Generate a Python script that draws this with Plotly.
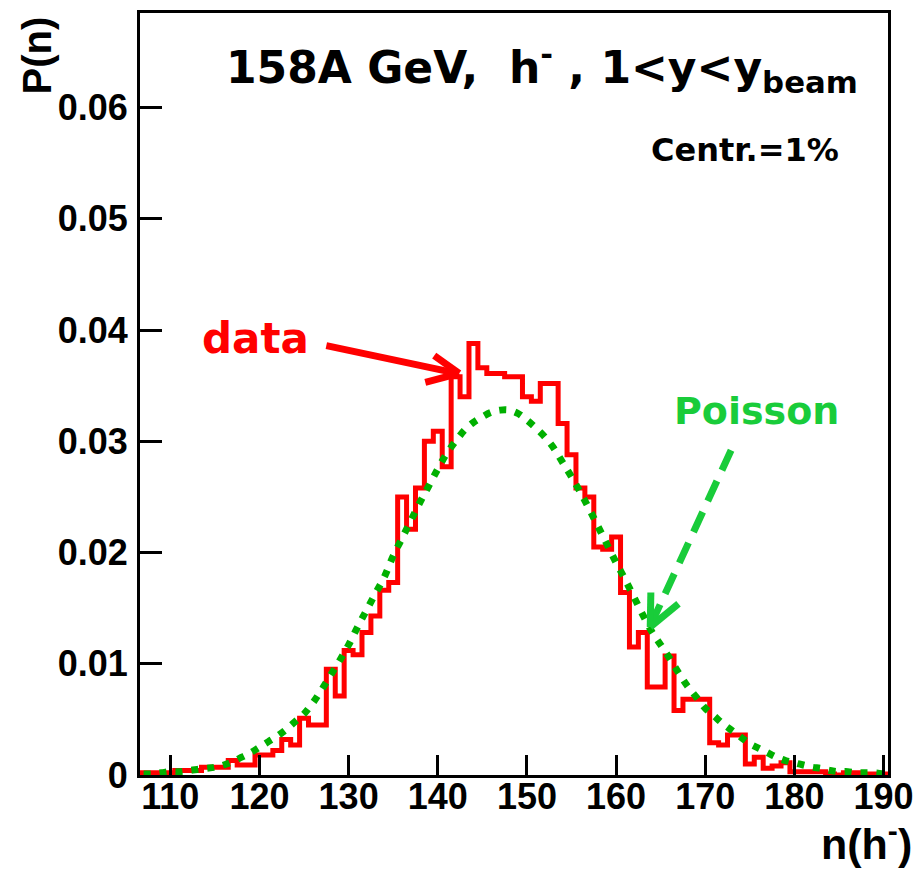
import plotly.graph_objects as go

# ---------------- data ----------------
n_bins = list(range(107, 191))  # bin centres (width 1)
data_vals = [
    0.0002, 0.0002, 0.0002, 0.0002,            # 107-110
    0.0004, 0.0004, 0.0004,                    # 111-113
    0.0007, 0.0007, 0.0007,                    # 114-116
    0.0013, 0.0009, 0.0009,                    # 117-119
    0.0018, 0.0018, 0.0022, 0.0032, 0.0027,    # 120-124
    0.0051, 0.0045, 0.0045, 0.0095, 0.0071,    # 125-129
    0.0112, 0.0108, 0.0128, 0.0143, 0.0166,    # 130-134
    0.0173, 0.0250, 0.0221, 0.0258, 0.0300,    # 135-139
    0.0309, 0.0277, 0.0358, 0.0340, 0.0388,    # 140-144
    0.0366, 0.0361, 0.0361, 0.0358, 0.0358,    # 145-149
    0.0340, 0.0336, 0.0352, 0.0352, 0.0316,    # 150-154
    0.0288, 0.0258, 0.0250, 0.0205, 0.0203,    # 155-159
    0.0214, 0.0164, 0.0115, 0.0128, 0.0079,    # 160-164
    0.0079, 0.0107, 0.0058, 0.0068, 0.0068,    # 165-169
    0.0068, 0.0029, 0.0027, 0.0036, 0.0036,    # 170-174
    0.0010, 0.0016, 0.0006, 0.0008, 0.0011,    # 175-179
    0.0003, 0.0003, 0.0003, 0.0003, 0.0001,    # 180-184
    0.0000, 0.0002, 0.0002, 0.0001, 0.0001,    # 185-189
    0.0001,                                    # 190
]
poisson_vals = [
    0.0001, 0.0001, 0.0002, 0.0003, 0.0003, 0.0004, 0.0005, 0.0006,  # 107-114
    0.0007, 0.0009, 0.0012, 0.0016, 0.0020, 0.0025, 0.0030, 0.0035,  # 115-122
    0.0041, 0.0048, 0.0055, 0.0065, 0.0077, 0.0090, 0.0103, 0.0117,  # 123-130
    0.0133, 0.0148, 0.0163, 0.0178, 0.0197, 0.0213, 0.0229, 0.0245,  # 131-138
    0.0260, 0.0275, 0.0289, 0.0300, 0.0310, 0.0317, 0.0322, 0.0326,  # 139-146
    0.0328, 0.0328, 0.0325, 0.0319, 0.0312, 0.0304, 0.0294, 0.0281,  # 147-154
    0.0268, 0.0254, 0.0239, 0.0223, 0.0207, 0.0191, 0.0176, 0.0160,  # 155-162
    0.0144, 0.0129, 0.0117, 0.0105, 0.0092, 0.0080, 0.0070, 0.0060,  # 163-170
    0.0053, 0.0046, 0.0040, 0.0034, 0.0028, 0.0024, 0.0020, 0.0016,  # 171-178
    0.0013, 0.0011, 0.0009, 0.0007, 0.0006, 0.0004, 0.0003, 0.0003,  # 179-186
    0.0002, 0.0002, 0.0002, 0.0001,                                  # 187-190
]
x_tick_vals = [110, 120, 130, 140, 150, 160, 170, 180, 190]
y_tick_vals = [0, 0.01, 0.02, 0.03, 0.04, 0.05, 0.06]
y_tick_text = ["0", "0.01", "0.02", "0.03", "0.04", "0.05", "0.06"]

# histogram drawn as steps on bin edges
edges = [c - 0.5 for c in n_bins] + [n_bins[-1] + 0.5]
step_y = data_vals + [data_vals[-1]]

RED = "#ff0000"
GREEN_LINE = "#00b000"
GREEN_TXT = "#19cc3a"
TICK_FONT = dict(family="Liberation Sans Narrow, Arial Narrow, Liberation Sans, Arial",
                 size=36, color="black", weight="bold")
COMIC = "DejaVu Sans, Noto Sans, sans-serif"

fig = go.Figure()
fig.add_trace(go.Scatter(x=edges, y=step_y, mode="lines",
                         line=dict(shape="hv", color=RED, width=5),
                         showlegend=False, hoverinfo="skip"))
fig.add_trace(go.Scatter(x=n_bins, y=poisson_vals, mode="lines",
                         line=dict(color=GREEN_LINE, width=7, dash="7px,9px", shape="spline"),
                         showlegend=False, hoverinfo="skip"))

fig.update_layout(
    width=924, height=873,
    margin=dict(l=140, r=29, t=10, b=98),
    paper_bgcolor="white", plot_bgcolor="white",
    xaxis=dict(range=[106.6, 190.5], tickvals=x_tick_vals, ticks="inside", ticklen=20,
               tickwidth=3, tickcolor="black", showline=True, linewidth=3, linecolor="black",
               mirror=True, showgrid=False, zeroline=False, tickfont=TICK_FONT,
               ticklabelstandoff=-12),
    yaxis=dict(range=[0, 0.0685], tickvals=y_tick_vals, ticktext=y_tick_text, ticks="inside",
               ticklen=22, tickwidth=3, tickcolor="black", showline=True, linewidth=3,
               linecolor="black", mirror=True, showgrid=False, zeroline=False,
               tickfont=TICK_FONT, ticklabelstandoff=2),
)

ann = []
ann.append(dict(text="<b>P(n)</b>", xref="paper", yref="paper", x=-0.139, y=0.998,
                xanchor="center", yanchor="top", textangle=-90, showarrow=False,
                font=dict(family="Liberation Sans, Arial", size=40, color="black")))
ann.append(dict(text="<b>n(h<sup>-</sup>)</b>", xref="paper", yref="paper", x=1.035, y=-0.048,
                xanchor="right", yanchor="top", showarrow=False,
                font=dict(family="Liberation Sans Narrow, Liberation Sans, Arial", size=43, color="black")))
ann.append(dict(text="<b>158A GeV,  h<sup>-</sup> , 1&lt;y&lt;y<sub>beam</sub></b>", xref="paper", yref="paper",
                x=0.537, y=0.972, xanchor="center", yanchor="top", showarrow=False,
                font=dict(family=COMIC, size=44, color="black")))
ann.append(dict(text="<b>Centr.=1%</b>", xref="paper", yref="paper",
                x=0.937, y=0.848, xanchor="right", yanchor="top", showarrow=False,
                font=dict(family=COMIC, size=32, color="black")))
ann.append(dict(text="<b>data</b>", xref="x", yref="y", x=119.6, y=0.0392,
                xanchor="center", yanchor="middle", showarrow=False,
                font=dict(family=COMIC, size=42, color=RED)))
ann.append(dict(text="<b>Poisson</b>", xref="x", yref="y", x=175.7, y=0.0327,
                xanchor="center", yanchor="middle", showarrow=False,
                font=dict(family=COMIC, size=38, color=GREEN_TXT)))
fig.update_layout(annotations=ann)

shapes = [
    # red arrow: shaft + open head
    dict(type="line", xref="x", yref="y", x0=127.5, y0=0.0386, x1=142.2, y1=0.0361,
         line=dict(color=RED, width=7)),
    dict(type="line", xref="x", yref="y", x0=139.6, y0=0.0377, x1=142.4, y1=0.0361,
         line=dict(color=RED, width=7)),
    dict(type="line", xref="x", yref="y", x0=138.6, y0=0.0353, x1=142.4, y1=0.0361,
         line=dict(color=RED, width=7)),
    # green dashed arrow
    dict(type="line", xref="x", yref="y", x0=172.9, y0=0.0292, x1=163.9, y1=0.0135,
         line=dict(color=GREEN_TXT, width=7, dash="22px,12px")),
    dict(type="line", xref="x", yref="y", x0=163.9, y0=0.0164, x1=163.83, y1=0.0133,
         line=dict(color=GREEN_TXT, width=7)),
    dict(type="line", xref="x", yref="y", x0=167.0, y0=0.0154, x1=163.83, y1=0.0133,
         line=dict(color=GREEN_TXT, width=7)),
]
fig.update_layout(shapes=shapes)

fig.write_html("out.html")
